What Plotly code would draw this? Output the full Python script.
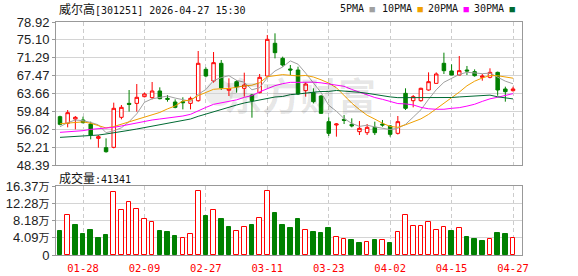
import plotly.graph_objects as go

# ---------------- data ----------------
dates = ["01-23", "01-26", "01-27", "01-28", "01-29", "01-30", "02-02", "02-03", "02-04", "02-05",
         "02-06", "02-09", "02-10", "02-11", "02-12", "02-13", "02-24", "02-25", "02-26", "02-27",
         "03-02", "03-03", "03-04", "03-05", "03-06", "03-09", "03-10", "03-11", "03-12", "03-13",
         "03-16", "03-17", "03-18", "03-19", "03-20", "03-23", "03-24", "03-25", "03-26", "03-27",
         "03-30", "03-31", "04-01", "04-02", "04-03", "04-07", "04-08", "04-09", "04-10", "04-13",
         "04-14", "04-15", "04-16", "04-17", "04-20", "04-21", "04-22", "04-23", "04-24", "04-27"]

opens = [58.71, 57.29, 58.21, 58.00, 57.14, 54.08, 52.09, 52.16, 58.57, 61.55,
         61.55, 62.98, 62.77, 64.19, 62.62, 61.84, 61.91, 61.55, 62.12, 68.81,
         66.32, 70.10, 64.35, 66.18, 64.76, 63.33, 63.83, 67.39, 74.37, 71.16,
         68.89, 68.67, 64.26, 63.83, 63.12, 57.64, 56.93, 58.14, 57.07, 55.51,
         55.29, 56.43, 57.14, 56.72, 55.15, 63.69, 62.12, 62.12, 64.40, 65.82,
         70.10, 68.46, 67.60, 68.67, 68.32, 67.11, 67.11, 68.17, 64.62, 64.26]

highs = [58.92, 60.13, 58.85, 58.71, 57.64, 54.79, 54.08, 61.70, 61.20, 64.40,
         65.68, 63.83, 66.11, 64.97, 63.33, 62.41, 62.84, 62.98, 72.73, 69.24,
         72.51, 70.81, 66.89, 66.54, 68.10, 63.55, 67.82, 76.15, 76.50, 71.52,
         69.74, 69.38, 66.04, 64.76, 63.33, 58.57, 57.30, 59.06, 58.35, 57.78,
         57.14, 57.64, 58.00, 56.93, 58.85, 64.76, 63.33, 64.90, 68.17, 68.17,
         72.37, 69.88, 71.66, 69.53, 68.81, 67.82, 69.03, 68.32, 65.11, 65.11]

lows = [56.86, 56.43, 56.00, 57.29, 53.87, 52.09, 51.02, 51.95, 58.14, 59.78,
        59.78, 62.84, 62.41, 62.41, 61.91, 60.49, 60.27, 60.27, 61.91, 67.11,
        65.97, 64.40, 63.12, 63.83, 62.98, 58.49, 63.69, 67.25, 71.16, 69.38,
        67.60, 63.33, 62.98, 61.55, 59.28, 54.58, 54.44, 57.14, 56.43, 54.79,
        54.79, 54.79, 56.57, 54.44, 54.90, 60.13, 60.70, 61.91, 64.26, 65.80,
        67.82, 67.55, 67.55, 67.60, 67.25, 66.39, 66.89, 63.19, 61.91, 64.05]

closes = [57.07, 59.56, 58.57, 57.43, 54.79, 54.44, 51.23, 60.49, 60.70, 61.34,
          62.84, 63.55, 64.19, 62.55, 62.41, 60.70, 61.70, 62.62, 70.10, 67.39,
          70.24, 64.85, 64.70, 65.11, 65.47, 62.12, 67.11, 75.22, 72.37, 69.74,
          68.67, 63.55, 65.68, 61.91, 59.42, 55.15, 57.14, 57.92, 56.72, 56.22,
          56.43, 55.29, 56.93, 54.94, 57.64, 60.49, 62.98, 64.76, 66.18, 67.82,
          68.53, 67.60, 68.53, 68.46, 67.46, 67.39, 68.17, 64.40, 64.05, 64.62]

ma5 = [56.57, 57.43, 58.00, 57.85, 57.48, 56.96, 55.29, 55.68, 56.33, 57.64,
       59.32, 61.78, 62.52, 62.89, 63.11, 62.68, 62.31, 62.00, 63.51, 64.50,
       66.41, 67.04, 67.46, 66.46, 66.07, 64.45, 64.90, 67.01, 68.46, 69.31,
       70.62, 69.91, 68.00, 65.91, 63.85, 61.14, 59.86, 58.31, 57.27, 56.63,
       56.89, 56.52, 56.32, 55.96, 56.25, 57.06, 58.60, 60.16, 62.41, 64.45,
       66.05, 66.98, 67.73, 68.19, 68.12, 67.89, 68.00, 67.18, 66.29, 65.73]

ma10 = [57.20, 57.30, 57.40, 57.60, 57.30, 56.80, 56.30, 56.60, 57.10, 57.56,
        58.14, 58.54, 59.10, 59.61, 60.37, 61.00, 62.05, 62.26, 63.20, 63.81,
        64.55, 64.68, 64.73, 64.98, 65.29, 65.43, 65.97, 67.23, 67.46, 67.69,
        67.54, 67.41, 67.50, 67.18, 66.58, 65.88, 64.89, 63.16, 61.59, 60.24,
        59.01, 58.19, 57.31, 56.62, 56.44, 56.97, 57.56, 58.24, 59.19, 60.35,
        61.56, 62.79, 63.95, 65.30, 66.28, 66.97, 67.49, 67.45, 67.24, 66.92]

ma20 = [55.36, 55.43, 55.58, 55.72, 56.00, 56.15, 56.15, 56.43, 56.72, 57.07,
        57.36, 57.71, 58.00, 58.21, 58.42, 58.64, 58.85, 59.21, 59.99, 60.68,
        61.34, 61.61, 61.91, 62.30, 62.83, 63.21, 64.01, 64.74, 65.33, 65.75,
        66.04, 66.04, 66.11, 66.08, 65.93, 65.65, 65.43, 65.19, 64.52, 63.96,
        63.27, 62.80, 62.41, 61.90, 61.51, 61.43, 61.22, 60.70, 60.39, 60.29,
        60.29, 60.49, 60.63, 60.96, 61.36, 61.97, 62.52, 62.85, 63.21, 63.63]

ma30 = [54.29, 54.37, 54.44, 54.51, 54.65, 54.79, 55.01, 55.22, 55.50, 55.79,
        56.07, 56.36, 56.64, 56.93, 57.21, 57.50, 57.85, 58.21, 58.78, 59.28,
        59.85, 60.35, 60.77, 61.20, 61.63, 61.98, 62.34, 62.69, 62.91, 63.02,
        63.41, 63.54, 63.78, 63.93, 64.08, 64.10, 64.30, 64.21, 64.08, 63.91,
        63.70, 63.42, 63.18, 62.93, 62.77, 62.76, 62.80, 62.87, 62.74, 62.76,
        62.70, 62.80, 62.92, 63.03, 63.10, 63.28, 63.31, 62.95, 62.67, 62.50]

vol_wan = [5.69, 9.41, 7.12, 4.98, 5.93, 4.03, 4.75, 14.87, 10.60, 12.49,
           10.83, 8.46, 7.75, 5.69, 5.46, 4.51, 4.03, 4.90, 15.10, 9.25,
           10.60, 8.54, 6.64, 5.69, 6.64, 7.12, 8.70, 15.10, 9.96, 7.12,
           6.41, 8.54, 5.85, 5.46, 5.22, 6.41, 4.19, 3.72, 3.56, 2.85,
           3.00, 3.56, 3.56, 2.85, 5.46, 9.49, 6.88, 6.88, 7.83, 5.93,
           6.64, 5.69, 6.41, 4.27, 3.80, 3.32, 3.80, 5.30, 5.06, 4.13]

price_ticks = [48.39, 52.21, 56.02, 59.84, 63.66, 67.47, 71.29, 75.10, 78.92]
vol_ticks = [0, 4.09, 8.18, 12.28, 16.37]
vol_tick_nums = ["0", "4.09", "8.18", "12.28", "16.37"]
vol_unit = "万"
date_ticks = ["01-28", "02-09", "02-27", "03-11", "03-23", "04-02", "04-15", "04-27"]

stock_name = "威尔高"
stock_code = "301251"
stamp = "2026-04-27 15:30"
last_volume = 41341
ma_names = ["5PMA", "10PMA", "20PMA", "30PMA"]
watermark = "东方财富"

# ---------------- style ----------------
RED = "#ff0000"
GREEN = "#008000"
MA_COLORS = ["#a0a0a0", "#f0a000", "#ff00ff", "#006a33"]
GRID = "#d4d4d4"
FRAME = "#999999"

W, H = 578, 276
L, R, T, B = 56, 56, 22, 21
PW, PH = W - L - R, H - T - B


def px_x(px):
    return (px - L) / PW


def px_y(py):
    return (H - B - py) / PH


fig = go.Figure()

fig.add_trace(go.Candlestick(
    x=dates, open=opens, high=highs, low=lows, close=closes,
    increasing=dict(line=dict(color=RED, width=1), fillcolor="#ffffff"),
    decreasing=dict(line=dict(color=GREEN, width=1), fillcolor=GREEN),
    whiskerwidth=0, xaxis="x", yaxis="y", showlegend=False, hoverinfo="skip"))

for name, vals, col in zip(ma_names, [ma5, ma10, ma20, ma30], MA_COLORS):
    fig.add_trace(go.Scatter(x=dates, y=vals, mode="lines", name=name,
                             line=dict(color=col, width=1), xaxis="x", yaxis="y",
                             showlegend=False, hoverinfo="skip"))

# volume colour: close vs previous close (first bar: close vs open)
vol_fill, vol_line = [], []
for i in range(len(dates)):
    ref = closes[i - 1] if i > 0 else opens[i]
    up = closes[i] >= ref
    vol_fill.append("#ffffff" if up else GREEN)
    vol_line.append(RED if up else GREEN)

fig.add_trace(go.Bar(x=dates, y=vol_wan, width=0.6,
                     marker=dict(color=vol_fill, line=dict(color=vol_line, width=1)),
                     xaxis="x2", yaxis="y2", showlegend=False, hoverinfo="skip"))

main_bottom = px_y(165)
vol_top = px_y(186)

axis_common = dict(showline=True, mirror=True, linecolor=FRAME, linewidth=1,
                   zeroline=False, automargin=False)

vol_tick_text = [n if n == "0" else f'{n}<span style="font-size:11px">{vol_unit}</span>'
                 for n in vol_tick_nums]

fig.update_layout(
    template="none",
    width=W, height=H,
    margin=dict(l=L, r=R, t=T, b=B, autoexpand=False),
    paper_bgcolor="white", plot_bgcolor="white",
    boxgap=0.35,
    bargap=0,
    hovermode=False,
    xaxis=dict(domain=[0, 1], anchor="y", type="category", range=[-0.52, 60.17],
               tickvals=date_ticks, showticklabels=False, ticks="",
               showgrid=True, gridcolor="#cccccc", griddash="4px,3px", gridwidth=1,
               rangeslider=dict(visible=False), **axis_common),
    yaxis=dict(domain=[main_bottom, 1], anchor="x", range=[price_ticks[0], price_ticks[-1]],
               tickvals=price_ticks, ticktext=[f"{v:.2f}" for v in price_ticks],
               ticks="outside", ticklen=3, tickcolor=FRAME,
               tickfont=dict(family="Liberation Sans, Arial", size=13, color="#222222"),
               showgrid=True, gridcolor=GRID, gridwidth=1, **axis_common),
    xaxis2=dict(domain=[0, 1], anchor="y2", type="category", range=[-0.52, 60.17],
                tickvals=date_ticks, ticktext=date_ticks, ticks="outside", ticklen=3,
                tickcolor="rgba(0,0,0,0)",
                tickfont=dict(family="DejaVu Sans Mono", size=10.5, color=RED),
                showgrid=True, gridcolor="#cccccc", griddash="4px,3px", gridwidth=1,
                **axis_common),
    yaxis2=dict(domain=[0, vol_top], anchor="x2", range=[0, vol_ticks[-1]],
                tickvals=vol_ticks, ticktext=vol_tick_text,
                ticks="outside", ticklen=3, tickcolor=FRAME,
                tickfont=dict(family="Liberation Sans, Arial, Noto Sans CJK SC", size=13, color="#222222"),
                showgrid=True, gridcolor=GRID, gridwidth=1, **axis_common),
)

annotations = []
# watermark
annotations.append(dict(
    xref="paper", yref="paper", x=px_x(300), y=px_y(93), xanchor="center", yanchor="middle",
    showarrow=False, text=f"<b>{watermark}</b>",
    font=dict(family="Noto Sans CJK SC", size=38, color="rgba(0,0,0,0.10)")))
# title
annotations.append(dict(
    xref="paper", yref="paper", x=px_x(57), y=px_y(9), xanchor="left", yanchor="middle",
    showarrow=False,
    text=f'<span style="font-family:Noto Sans CJK SC;font-size:12px">{stock_name}</span>[{stock_code}] {stamp}',
    font=dict(family="DejaVu Sans Mono", size=10, color="#111111")))
# legend items
legend_x = [338, 380, 426, 472]
for name, col, lx in zip(ma_names, MA_COLORS, legend_x):
    annotations.append(dict(
        xref="paper", yref="paper", x=px_x(lx), y=px_y(9), xanchor="left", yanchor="middle",
        showarrow=False,
        text=f'{name}<span style="color:{col};font-size:9px"> ■</span>',
        font=dict(family="DejaVu Sans Mono", size=10, color="#111111")))
# volume label
annotations.append(dict(
    xref="paper", yref="paper", x=px_x(57), y=px_y(177), xanchor="left", yanchor="middle",
    showarrow=False,
    text=f'<span style="font-family:Noto Sans CJK SC;font-size:12px">成交量</span>:{last_volume}',
    font=dict(family="DejaVu Sans Mono", size=10, color="#111111")))
fig.update_layout(annotations=annotations)

fig.add_shape(type="circle", xref="paper", yref="paper",
              x0=px_x(205), x1=px_x(233), y0=px_y(106), y1=px_y(80),
              fillcolor="rgba(0,0,0,0.07)", line=dict(width=0), layer="below")

fig.write_html("out.html", config={"displayModeBar": False})
